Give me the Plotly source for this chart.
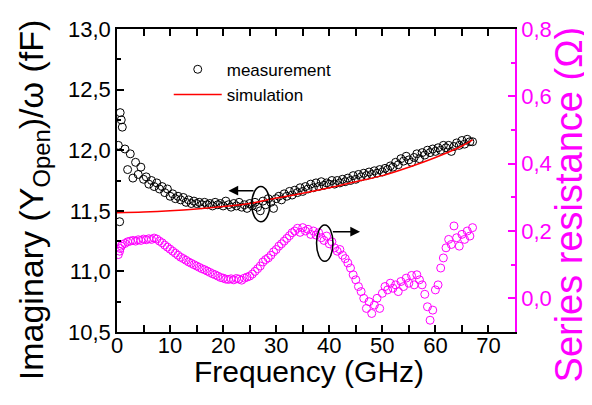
import plotly.graph_objects as go

# ---------------- data ----------------
freq = [0.25, 0.5, 0.6, 0.8, 1.0,
        1.5, 2.0, 2.5, 3.0, 3.5, 4.0, 4.5, 5.0, 5.5, 6.0,
        6.5, 7.0, 7.5, 8.0, 8.5, 9.0, 9.5, 10.0, 10.5, 11.0,
        11.5, 12.0, 12.5, 13.0, 13.5, 14.0, 14.5, 15.0, 15.5, 16.0,
        16.5, 17.0, 17.5, 18.0, 18.5, 19.0, 19.5, 20.0, 20.5, 21.0,
        21.5, 22.0, 22.5, 23.0, 23.5, 24.0, 24.5, 25.0, 25.5, 26.0,
        26.5, 27.0, 27.5, 28.0, 28.5, 29.0, 29.5, 30.0, 30.5, 31.0,
        31.5, 32.0, 32.5, 33.0, 33.5, 34.0, 34.5, 35.0, 35.5, 36.0,
        36.5, 37.0, 37.5, 38.0, 38.5, 39.0, 39.5, 40.0, 40.5, 41.0,
        41.5, 42.0, 42.5, 43.0, 43.5, 44.0, 44.5, 45.0, 45.5, 46.0,
        46.5, 47.0, 47.5, 48.0, 48.5, 49.0, 49.5, 50.0, 50.5, 51.0,
        51.5, 52.0, 52.5, 53.0, 53.5, 54.0, 54.5, 55.0, 55.5, 56.0,
        56.5, 57.0, 57.5, 58.0, 58.5, 59.0, 59.5, 60.0, 60.5, 61.0,
        61.5, 62.0, 62.5, 63.0, 63.5, 64.0, 64.5, 65.0, 65.5, 66.0,
        66.5, 67.0]

measurement = [12.04, 11.41, 12.31, 12.25, 12.19,
               12.01, 11.84, 11.97, 11.77, 11.90, 11.80, 11.86, 11.76, 11.78, 11.72,
               11.75, 11.70, 11.73, 11.68, 11.70, 11.65, 11.68, 11.62, 11.64, 11.60,
               11.62, 11.59, 11.61, 11.57, 11.59, 11.56, 11.58, 11.56, 11.57, 11.55,
               11.57, 11.55, 11.56, 11.54, 11.57, 11.55, 11.56, 11.54, 11.58, 11.55,
               11.53, 11.56, 11.54, 11.57, 11.53, 11.55, 11.52, 11.56, 11.54, 11.57,
               11.53, 11.50, 11.58, 11.55, 11.60, 11.57, 11.52, 11.60, 11.62, 11.59,
               11.64, 11.62, 11.66, 11.63, 11.67, 11.65, 11.69, 11.66, 11.70, 11.68,
               11.72, 11.69, 11.73, 11.70, 11.74, 11.71, 11.73, 11.72, 11.75, 11.72,
               11.75, 11.73, 11.76, 11.74, 11.77, 11.75, 11.79, 11.76, 11.80, 11.78,
               11.81, 11.79, 11.82, 11.80, 11.83, 11.81, 11.84, 11.82, 11.85, 11.84,
               11.87, 11.86, 11.90, 11.88, 11.93, 11.91, 11.95, 11.92, 11.90, 11.94,
               11.97, 11.93, 11.98, 11.96, 12.00, 11.98, 12.01, 11.99, 12.02, 12.00,
               12.04, 12.02, 12.04, 11.99, 12.03, 12.06, 12.04, 12.08, 12.05, 12.09,
               12.07, 12.07]

resistance = [0.130, 0.140, 0.148, 0.155, 0.160,
              0.163, 0.168, 0.170, 0.172, 0.170, 0.174, 0.172, 0.176, 0.174, 0.177,
              0.175, 0.179, 0.176, 0.170, 0.165, 0.158, 0.152, 0.146, 0.140, 0.134,
              0.128, 0.122, 0.118, 0.113, 0.108, 0.104, 0.100, 0.096, 0.092, 0.088,
              0.085, 0.081, 0.077, 0.073, 0.070, 0.066, 0.062, 0.060, 0.057, 0.056,
              0.058, 0.055, 0.059, 0.057, 0.054, 0.060, 0.063, 0.066, 0.072, 0.080,
              0.088, 0.096, 0.108, 0.115, 0.120, 0.128, 0.138, 0.145, 0.155, 0.162,
              0.170, 0.178, 0.186, 0.195, 0.200, 0.208, 0.196, 0.210, 0.200, 0.205,
              0.190, 0.200, 0.188, 0.195, 0.180, 0.172, 0.185, 0.162, 0.168, 0.150,
              0.140, 0.145, 0.128, 0.118, 0.105, 0.090, 0.070, 0.055, 0.035, 0.020,
              0.000, -0.030, -0.010, -0.045, -0.020, 0.000, -0.030, 0.015, 0.035, 0.025,
              0.045, 0.030, 0.040, 0.020, 0.050, 0.035, 0.060, 0.045, 0.068, 0.040,
              0.070, 0.055, 0.040, 0.012, -0.025, -0.065, -0.035, 0.025, 0.040, 0.090,
              0.120, 0.150, 0.175, 0.160, 0.215, 0.180, 0.155, 0.190, 0.175, 0.200,
              0.185, 0.210]

sim_freq = [0, 5, 10, 15, 20, 25, 30, 35, 40, 45, 50, 55, 60, 65, 67]
simulation = [11.484, 11.49, 11.50, 11.515, 11.535, 11.56, 11.605, 11.645,
              11.69, 11.74, 11.79, 11.86, 11.94, 12.035, 12.085]

x_ticks = [0, 10, 20, 30, 40, 50, 60, 70]
y_ticks = [10.5, 11.0, 11.5, 12.0, 12.5, 13.0]
y_ticktext = ["10,5", "11,0", "11,5", "12,0", "12,5", "13,0"]
y2_ticks = [0.0, 0.2, 0.4, 0.6, 0.8]
y2_ticktext = ["0,0", "0,2", "0,4", "0,6", "0,8"]

MAGENTA = "#FF00FF"
FONT = "Arial, Liberation Sans, sans-serif"

fig = go.Figure()
fig.add_trace(go.Scatter(
    x=freq, y=measurement, mode="markers", name="measurement",
    marker=dict(symbol="circle-open", size=8, color="black", line=dict(width=1)),
))
fig.add_trace(go.Scatter(
    x=sim_freq, y=simulation, mode="lines", name="simulation",
    line=dict(color="#FF0000", width=1.5, shape="spline"),
))
fig.add_trace(go.Scatter(
    x=freq, y=resistance, mode="markers", name="resistance", showlegend=False,
    yaxis="y2",
    marker=dict(symbol="circle-open", size=8, color=MAGENTA, line=dict(width=1)),
))

# page body adds an 8px offset, so the figure is sized to fit the visible window
fig.update_layout(
    template="none",
    width=584, height=397,
    margin=dict(l=109, r=77, t=21, b=73, autoexpand=False),
    paper_bgcolor="white", plot_bgcolor="white",
    font=dict(family=FONT, color="black"),
    showlegend=True,
    legend=dict(x=0.13, y=0.925, xanchor="left", yanchor="top",
                bgcolor="rgba(0,0,0,0)", font=dict(size=17),
                tracegroupgap=0, itemwidth=48, borderwidth=0),
    xaxis=dict(range=[0, 75], tickvals=x_ticks, ticks="inside", ticklen=7,
               tickwidth=1.5, tickcolor="black", showline=True, linecolor="black",
               linewidth=1.5, mirror="allticks", showgrid=False, zeroline=False,
               automargin=False, ticklabelstandoff=-7,
               tickfont=dict(size=22),
               minor=dict(dtick=5, tick0=0, ticks="inside", ticklen=4,
                          tickwidth=1.5, tickcolor="black", showgrid=False)),
    yaxis=dict(range=[10.5, 13.0], tickvals=y_ticks, ticktext=y_ticktext,
               ticks="inside", ticklen=7, tickwidth=1.5, tickcolor="black",
               showline=True, linecolor="black", linewidth=1.5, mirror=False,
               showgrid=False, zeroline=False, automargin=False,
               tickfont=dict(size=22),
               minor=dict(dtick=0.25, tick0=10.5, ticks="inside", ticklen=4,
                          tickwidth=1.5, tickcolor="black", showgrid=False)),
    yaxis2=dict(range=[-0.1, 0.8], overlaying="y", side="right",
                tickvals=y2_ticks, ticktext=y2_ticktext,
                ticks="inside", ticklen=7, tickwidth=1.5, tickcolor=MAGENTA,
                showline=True, linecolor=MAGENTA, linewidth=1.5,
                showgrid=False, zeroline=False, automargin=False,
                tickfont=dict(size=22, color=MAGENTA),
                minor=dict(dtick=0.1, tick0=0, ticks="inside", ticklen=4,
                           tickwidth=1.5, tickcolor=MAGENTA, showgrid=False)),
)

# axis titles
fig.add_annotation(text="Frequency (GHz)", xref="paper", yref="paper",
                   x=0.482, y=-0.13, xanchor="center", yanchor="middle",
                   showarrow=False, font=dict(size=30, family=FONT, color="black"))
fig.add_annotation(text="Imaginary (Y<sub>Open</sub>)/ω (fF)", xref="paper", yref="paper",
                   x=-0.211, y=0.435, xanchor="center", yanchor="middle", textangle=-90,
                   showarrow=False, font=dict(size=34, family=FONT, color="black"))
fig.add_annotation(text="Series resistance (Ω)", xref="paper", yref="paper",
                   x=1.135, y=0.42, xanchor="center", yanchor="middle", textangle=-90,
                   showarrow=False, font=dict(size=38, family=FONT, color=MAGENTA))

# ellipses + arrows
fig.add_shape(type="circle", xref="x", yref="y", x0=25.4, x1=28.8, y0=11.41, y1=11.70,
              line=dict(color="black", width=1.5))
fig.add_shape(type="circle", xref="x", yref="y2", x0=37.6, x1=40.7, y0=0.110, y1=0.218,
              line=dict(color="black", width=1.5))
fig.add_annotation(x=21.0, y=11.666, ax=26.0, ay=11.666, xref="x", yref="y",
                   axref="x", ayref="y", text="", showarrow=True,
                   arrowhead=2, arrowsize=1.3, arrowwidth=1.5, arrowcolor="black")
fig.add_annotation(x=45.8, y=0.198, ax=40.4, ay=0.198, xref="x", yref="y2",
                   axref="x", ayref="y2", text="", showarrow=True,
                   arrowhead=2, arrowsize=1.3, arrowwidth=1.5, arrowcolor="black")

fig.write_html("out.html")
